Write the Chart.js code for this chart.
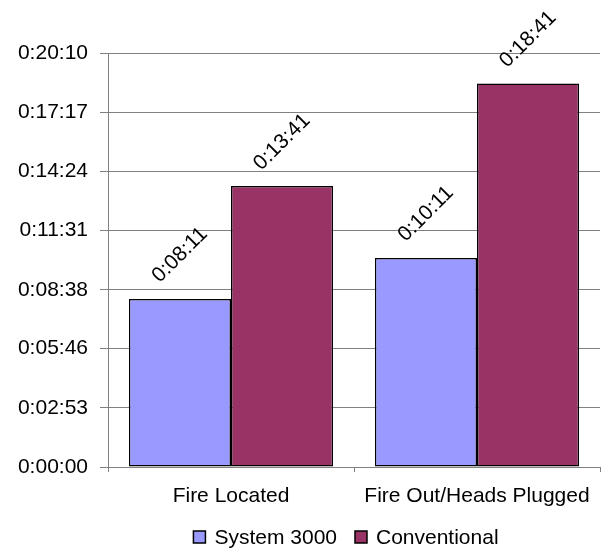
<!DOCTYPE html>
<html>
<head>
<meta charset="utf-8">
<script src="https://cdn.jsdelivr.net/npm/chart.js@4"></script>
<style>
  html, body { margin: 0; padding: 0; background: #fff; }
  #wrap { width: 607px; height: 548px; }
</style>
</head>
<body>
<div id="wrap"><canvas id="timeChart" width="607" height="548"></canvas></div>
<script>
// tiempos en segundos
var categories = ['Fire Located', 'Fire Out/Heads Plugged'];
var seriesNames = ['System 3000', 'Conventional'];
var system3000 = [491, 611];     // 0:08:11, 0:10:11
var conventional = [821, 1121];  // 0:13:41, 0:18:41
var yTicks = [0, 173, 346, 518, 691, 864, 1037, 1210];
var colors = ['#9999FF', '#993366'];

var FONT = '21px "Liberation Sans", Arial, sans-serif';

function fmt(sec) {
    sec = Math.round(sec);
    var h = Math.floor(sec / 3600);
    var m = Math.floor((sec % 3600) / 60);
    var s = sec % 60;
    return h + ':' + (m < 10 ? '0' : '') + m + ':' + (s < 10 ? '0' : '') + s;
}

// etiquetas giradas encima de cada barra
var barLabels = {
    id: 'barLabels',
    afterDatasetsDraw: function(chart) {
        var c = chart.ctx;
        chart.data.datasets.forEach(function(ds, i) {
            var meta = chart.getDatasetMeta(i);
            meta.data.forEach(function(bar, j) {
                c.save();
                c.translate(bar.x, bar.y - 44);
                c.rotate(-Math.PI / 4);
                c.font = FONT;
                c.fillStyle = '#000';
                c.textAlign = 'center';
                c.textBaseline = 'middle';
                c.fillText(fmt(ds.data[j]), 0, 0);
                c.restore();
            });
        });
    }
};

// leyenda abajo
var bottomLegend = {
    id: 'bottomLegend',
    afterDraw: function(chart) {
        var c = chart.ctx;
        c.save();
        c.font = FONT;
        var box = 12, gap = 9, spacing = 18;
        var widths = chart.data.datasets.map(function(ds) { return c.measureText(ds.label).width; });
        var total = 0;
        widths.forEach(function(w, i) { total += box + gap + w + (i ? spacing : 0); });
        var x = 346 - total / 2;
        var y = 537;
        chart.data.datasets.forEach(function(ds, i) {
            c.fillStyle = ds.backgroundColor;
            c.fillRect(x, y - box / 2, box, box);
            c.strokeStyle = '#000';
            c.lineWidth = 1.5;
            c.strokeRect(x, y - box / 2, box, box);
            c.fillStyle = '#000';
            c.textAlign = 'left';
            c.textBaseline = 'middle';
            c.fillText(ds.label, x + box + gap, y + 1);
            x += box + gap + widths[i] + spacing;
        });
        c.restore();
    }
};

var ctx = document.getElementById('timeChart').getContext('2d');
new Chart(ctx, {
    type: 'bar',
    data: {
        labels: categories,
        datasets: [
            {
                label: seriesNames[0],
                data: system3000,
                backgroundColor: colors[0],
                borderColor: '#000',
                borderWidth: 1.5,
                borderSkipped: false
            },
            {
                label: seriesNames[1],
                data: conventional,
                backgroundColor: colors[1],
                borderColor: '#000',
                borderWidth: 1.5,
                borderSkipped: false
            }
        ]
    },
    options: {
        responsive: false,
        animation: false,
        layout: { padding: { left: 0, right: 7, top: 53, bottom: 0 } },
        datasets: { bar: { categoryPercentage: 0.83, barPercentage: 1.0 } },
        plugins: {
            legend: { display: false },
            tooltip: { enabled: false }
        },
        scales: {
            x: {
                grid: { drawOnChartArea: false, drawTicks: true, tickLength: 5, color: '#808080' },
                border: { color: '#808080', width: 1 },
                ticks: { color: '#000', font: { family: '"Liberation Sans", Arial, sans-serif', size: 21 }, padding: 12, maxRotation: 0 },
                afterFit: function(scale) { scale.height = 81; }
            },
            y: {
                min: 0,
                max: 1210,
                afterBuildTicks: function(scale) {
                    scale.ticks = yTicks.map(function(v) { return { value: v }; });
                },
                grid: { color: '#808080', tickLength: 8, lineWidth: 1 },
                border: { color: '#808080', width: 1 },
                ticks: {
                    color: '#000',
                    font: { family: '"Liberation Sans", Arial, sans-serif', size: 21 },
                    padding: 12,
                    callback: function(v) { return fmt(v); }
                },
                afterFit: function(scale) { scale.width = 108; }
            }
        }
    },
    plugins: [barLabels, bottomLegend]
});
</script>
</body>
</html>
